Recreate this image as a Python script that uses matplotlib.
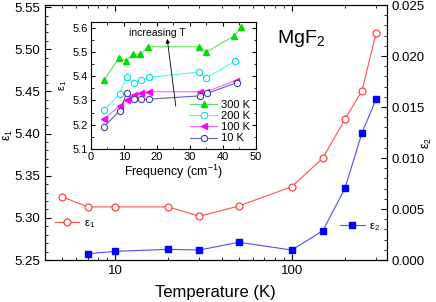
import matplotlib
matplotlib.use("Agg")
import matplotlib.pyplot as plt
from matplotlib.ticker import MultipleLocator, LogLocator, NullFormatter, FixedLocator, FormatStrFormatter

plt.rcParams['font.family'] = ['Liberation Sans', 'DejaVu Sans']
plt.rcParams['mathtext.fontset'] = 'custom'
plt.rcParams['mathtext.rm'] = 'Liberation Sans'
plt.rcParams['mathtext.it'] = 'Liberation Sans'

# Main data
T_eps1 = [5, 7, 10, 20, 30, 50, 100, 150, 200, 250, 300]
eps1 = [5.325, 5.313, 5.313, 5.313, 5.302, 5.314, 5.337, 5.371, 5.417, 5.451, 5.519]
T_eps2 = [7, 10, 20, 30, 50, 100, 150, 200, 250, 300]
eps2 = [0.00062, 0.00085, 0.00105, 0.00098, 0.00174, 0.00098, 0.00287, 0.00703, 0.01248, 0.01575]

# Inset data
f_300 = [4.0, 8.5, 10.7, 12.8, 14.9, 17.4, 32.7, 34.8, 43.4, 45.4]
e_300 = [5.384, 5.476, 5.463, 5.490, 5.490, 5.521, 5.521, 5.498, 5.566, 5.601]
f_200 = [4.0, 8.7, 10.8, 12.9, 15.2, 17.5, 32.8, 35.0, 43.7]
e_200 = [5.260, 5.328, 5.398, 5.373, 5.384, 5.395, 5.417, 5.393, 5.462]
f_100 = [4.0, 8.7, 10.8, 12.9, 15.2, 17.7, 33.0, 35.0, 43.8]
e_100 = [5.223, 5.278, 5.302, 5.322, 5.329, 5.336, 5.336, 5.336, 5.382]
f_10 = [4.0, 8.7, 10.8, 12.9, 15.2, 17.5, 33.0, 35.2, 44.1]
e_10 = [5.192, 5.258, 5.329, 5.305, 5.305, 5.305, 5.319, 5.329, 5.373]

fig = plt.figure(figsize=(4.36, 3.02), dpi=100)
ax = fig.add_axes([0.1032, 0.139, 0.7838, 0.8444])
ax2 = ax.twinx()

l1, = ax.plot(T_eps1, eps1, '-', color='#ff5050', lw=0.8, marker='o', ms=5,
              mfc='white', mec='#ff3030', mew=0.8, label='ε$_1$')
l2, = ax2.plot(T_eps2, eps2, '-', color='#4f4fff', lw=0.8, marker='s', ms=4.5,
               mfc='#0000ff', mec='#0000ff', label='ε$_2$')

ax.set_xscale('log')
ax.set_xlim(4, 345)
ax.set_ylim(5.25, 5.5525)
ax2.set_ylim(0, 0.025)
ax.yaxis.set_major_locator(MultipleLocator(0.05))
ax.yaxis.set_minor_locator(MultipleLocator(0.01))
ax2.yaxis.set_major_locator(MultipleLocator(0.005))
ax2.yaxis.set_minor_locator(MultipleLocator(0.001))
ax.xaxis.set_major_locator(FixedLocator([10, 100]))
ax.xaxis.set_minor_locator(LogLocator(base=10, subs=range(2, 10)))
ax.xaxis.set_minor_formatter(NullFormatter())
ax.set_xticklabels(['10', '100'])
ax.yaxis.set_major_formatter(FormatStrFormatter('%.2f'))
ax2.yaxis.set_major_formatter(FormatStrFormatter('%.3f'))

ax.tick_params(which='both', direction='in', top=True, labelsize=9.5)
ax.tick_params(which='major', length=4)
ax.tick_params(which='minor', length=2.5)
ax2.tick_params(which='both', direction='in', labelsize=9.5)
ax2.tick_params(which='major', length=4)
ax2.tick_params(which='minor', length=2.5)

ax.set_xlabel('Temperature (K)', fontsize=12, labelpad=6)
ax.set_ylabel('ε$_1$', fontsize=9)
ax2.set_ylabel('ε$_2$', fontsize=9)
ax.yaxis.set_label_coords(-0.088, 0.49)
ax2.yaxis.set_label_coords(1.10, 0.46)

ax.legend(handles=[l1], loc='lower left', bbox_to_anchor=(0.0, 0.08),
          frameon=False, fontsize=8, handlelength=2.2, handletextpad=0.4)
ax2.legend(handles=[l2], loc='lower right', bbox_to_anchor=(1.0, 0.08),
           frameon=False, fontsize=8, handlelength=2.2, handletextpad=0.4,
           borderaxespad=0.2)

ax.text(0.68, 0.87, 'MgF$_2$', transform=ax.transAxes, fontsize=14,
        ha='left', va='center')

# Inset
ins = fig.add_axes([0.2087, 0.5066, 0.3784, 0.4214])
ins.plot(f_300, e_300, '-', color='#60e060', lw=0.8, marker='^', ms=5,
         mfc='#00dd00', mec='#00dd00', label='300 K')
ins.plot(f_200, e_200, '-', color='#40ffff', lw=0.8, marker='o', ms=4.5,
         mfc='white', mec='#00e0e0', mew=0.8, label='200 K')
ins.plot(f_100, e_100, '-', color='#ff60ff', lw=0.8, marker='<', ms=5,
         mfc='#ff00ff', mec='#ff00ff', label='100 K')
ins.plot(f_10, e_10, '-', color='#6060c0', lw=0.8, marker='o', ms=4.5,
         mfc='white', mec='#4040b0', mew=0.8, label='10 K')
ins.set_xlim(0, 50)
ins.set_ylim(5.1, 5.624)
ins.xaxis.set_major_locator(MultipleLocator(10))
ins.xaxis.set_minor_locator(MultipleLocator(5))
ins.yaxis.set_major_locator(MultipleLocator(0.1))
ins.yaxis.set_minor_locator(MultipleLocator(0.05))
ins.tick_params(which='both', direction='in', top=True, right=True, labelsize=8, pad=2)
ins.tick_params(which='major', length=3)
ins.tick_params(which='minor', length=1.8)
ins.set_xlabel('Frequency (cm$^{-1}$)', fontsize=9, labelpad=1)
ins.set_ylabel('ε$_1$', fontsize=8, labelpad=3)
ins.legend(loc='lower right', frameon=False, fontsize=8, handlelength=2.4,
           handletextpad=0.4, labelspacing=0.1, borderaxespad=0.1)
ins.annotate('', xy=(23, 5.565), xytext=(25.8, 5.265),
             arrowprops=dict(arrowstyle='-|>', color='black', lw=0.6,
                             mutation_scale=6))
ins.text(20, 5.577, 'increasing T', fontsize=7.5, ha='center', va='center')

fig.savefig('out.png', dpi=100)
